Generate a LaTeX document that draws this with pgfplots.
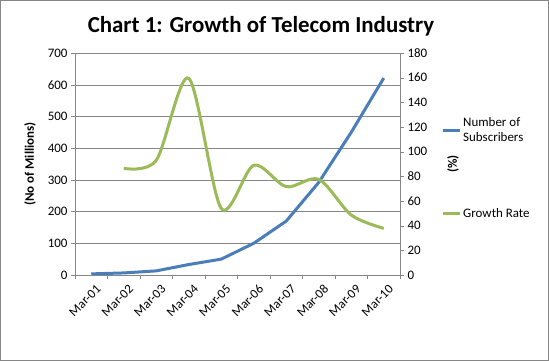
\documentclass[border=0pt]{standalone}
\usepackage{pgfplots}
\pgfplotsset{compat=1.18}
\usepackage{fontspec}
\setmainfont{Carlito}
\definecolor{xblue}{HTML}{4A7EBB}
\definecolor{xgreen}{HTML}{9BBB59}
\definecolor{xgray}{HTML}{868686}
\begin{document}
\begin{tikzpicture}
\useasboundingbox (0bp,0bp) rectangle (549bp,361bp);
\draw[xgray] (0.5bp,0.5bp) rectangle (548.5bp,360.5bp);
\node[font=\fontsize{23}{27}\selectfont\bfseries] at (261bp,335bp) {Chart 1: Growth of Telecom Industry};
\pgfplotsset{
  myaxis/.style={
    at={(75bp,86bp)}, anchor=south west,
    scale only axis, width=325bp, height=222bp,
    xmin=-0.5, xmax=9.5,
    axis line style={xgray},
    tick style={xgray},
    tick label style={font=\fontsize{13}{15}\selectfont},
    /pgf/number format/assume math mode=true,
    legend style={draw=none, fill=none, font=\fontsize{13}{15}\selectfont, cells={anchor=west, align=left}},
    legend cell align=left,
  }
}
\begin{axis}[myaxis,
  axis x line*=bottom, axis y line*=left,
  ymin=0, ymax=700, ytick={0,100,...,700},
  ymajorgrids, grid style={xgray},
  xtick={0,...,9},
  xticklabels={Mar-01,Mar-02,Mar-03,Mar-04,Mar-05,Mar-06,Mar-07,Mar-08,Mar-09,Mar-10},
  x tick label style={rotate=45, anchor=north east, xshift=3bp, yshift=-3bp},
  major x tick style={draw=none},
  minor xtick={-0.5,0.5,...,9.5},
  xtick pos=bottom, ytick pos=left,
  tick align=outside, major tick length=4bp, minor tick length=4bp,
  ylabel={\bfseries (No of Millions)},
  ylabel style={font=\fontsize{13}{15}\selectfont, at={(axis description cs:-0.138,0.5)}, anchor=center},
  legend style={at={(axis description cs:1.117,0.653)}, anchor=west},
  ]
\addplot[xblue, line width=3bp] coordinates {
(0,3.5) (1,6.5) (2,13) (3,33) (4,50) (5,100) (6,170) (7,292) (8,450) (9,621)};
\addlegendentry{Number of\\Subscribers}
\end{axis}
\begin{axis}[myaxis,
  axis x line=none, axis y line*=right,
  ymin=0, ymax=180, ytick={0,20,...,180},
  ytick pos=right, tick align=outside, major tick length=4bp,
  ylabel={\bfseries (\%)},
  ylabel style={font=\fontsize{13}{15}\selectfont, at={(axis description cs:1.163,0.5)}, anchor=center},
  legend style={at={(axis description cs:1.117,0.275)}, anchor=west},
  ]
\addplot[xgreen, line width=3bp, smooth, tension=0.5] coordinates {
(1,86.5) (2,93) (3,159.5) (4,54) (5,89) (6,71.6) (7,77.6) (8,48.6) (9,37.8)};
\addlegendentry{Growth Rate}
\end{axis}
\end{tikzpicture}
\end{document}
